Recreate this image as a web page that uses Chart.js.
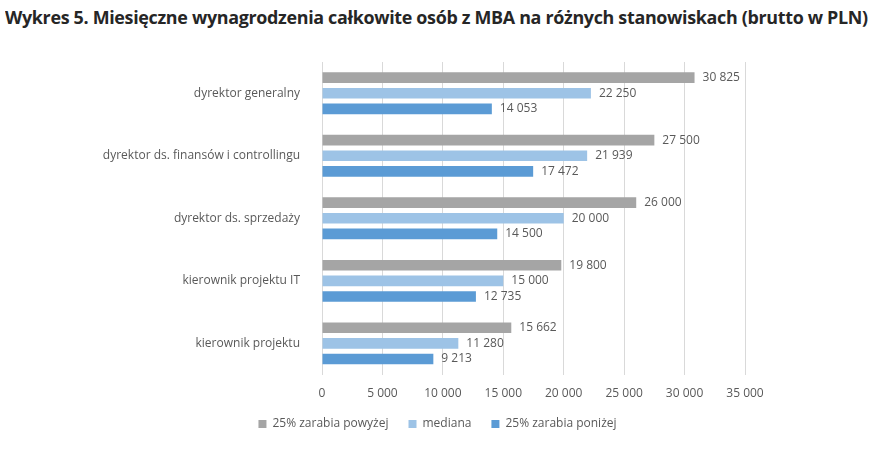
<!DOCTYPE html>
<html>
<head>
<meta charset="utf-8">
<script src="https://cdn.jsdelivr.net/npm/chart.js@4"></script>
<style>
  body { margin: 0; background: #fff; }
  #wrap { position: relative; width: 873px; height: 460px; }
  #title {
    position: absolute; left: 5px; top: 6px; white-space: nowrap;
    font-family: "Open Sans", sans-serif; font-weight: bold; font-size: 17px;
    color: #262626; transform-origin: 0 0; letter-spacing: -0.3px;
  }
  canvas { position: absolute; left: 0; top: 0; }
</style>
</head>
<body>
<div id="wrap">
  <div id="title">Wykres 5. Miesięczne wynagrodzenia całkowite osób z MBA na różnych stanowiskach (brutto w PLN)</div>
  <canvas id="chart" width="873" height="460"></canvas>
</div>
<script>
const categories = ["dyrektor generalny", "dyrektor ds. finansów i controllingu", "dyrektor ds. sprzedaży", "kierownik projektu IT", "kierownik projektu"];
const top25 = [30825, 27500, 26000, 19800, 15662];
const median = [22250, 21939, 20000, 15000, 11280];
const bottom25 = [14053, 17472, 14500, 12735, 9213];
const seriesNames = ["25% zarabia powyżej", "mediana", "25% zarabia poniżej"];

// fit title to width
const t = document.getElementById("title");
t.style.transform = "scaleX(" + (863 / t.scrollWidth) + ")";

function fmt(v) {
  return String(v).replace(/\B(?=(\d{3})+(?!\d))/g, " ");
}

const valueLabels = {
  id: "valueLabels",
  afterDatasetsDraw(chart) {
    const ctx = chart.ctx;
    ctx.save();
    ctx.font = "12px 'Open Sans', sans-serif";
    ctx.fillStyle = "#595959";
    ctx.textBaseline = "middle";
    chart.data.datasets.forEach((ds, i) => {
      chart.getDatasetMeta(i).data.forEach((el, j) => {
        ctx.fillText(fmt(ds.data[j]), el.x + 8, el.y);
      });
    });
    ctx.restore();
  }
};

// legend: fixed height in layout, then placed where the original has it
const legendFix = {
  id: "legendFix",
  afterInit(chart) {
    const lg = chart.legend;
    const fit = lg.fit;
    lg.fit = function () {
      fit.call(this);
      this.height = 40;
    };
  },
  afterLayout(chart) {
    const lg = chart.legend;
    lg.left += 60;
    lg.right += 60;
    lg.top = 398;
    lg.bottom = 446;
  }
};

Chart.defaults.font.family = "'Open Sans', sans-serif";
Chart.defaults.font.size = 12;
Chart.defaults.color = "#595959";

new Chart(document.getElementById("chart"), {
  type: "bar",
  data: {
    labels: categories,
    datasets: [
      { label: seriesNames[0], data: top25, backgroundColor: "#a5a5a5" },
      { label: seriesNames[1], data: median, backgroundColor: "#9dc3e6" },
      { label: seriesNames[2], data: bottom25, backgroundColor: "#5b9bd5" }
    ]
  },
  options: {
    indexAxis: "y",
    responsive: false,
    animation: false,
    categoryPercentage: 0.75,
    barPercentage: 0.68,
    layout: { padding: { top: 62, right: 128, left: 10, bottom: 7 } },
    scales: {
      x: {
        min: 0, max: 35000,
        ticks: { stepSize: 5000, callback: v => fmt(v), padding: 12 },
        grid: { color: "#d9d9d9", drawTicks: false },
        border: { display: false }
      },
      y: {
        grid: { display: false },
        border: { display: false },
        ticks: { padding: 14 },
        afterFit: s => { s.width = 312; }
      }
    },
    plugins: {
      legend: {
        position: "bottom",
        labels: { boxWidth: 8, boxHeight: 8, padding: 20 }
      },
      tooltip: { enabled: false }
    }
  },
  plugins: [valueLabels, legendFix]
});
</script>
</body>
</html>
